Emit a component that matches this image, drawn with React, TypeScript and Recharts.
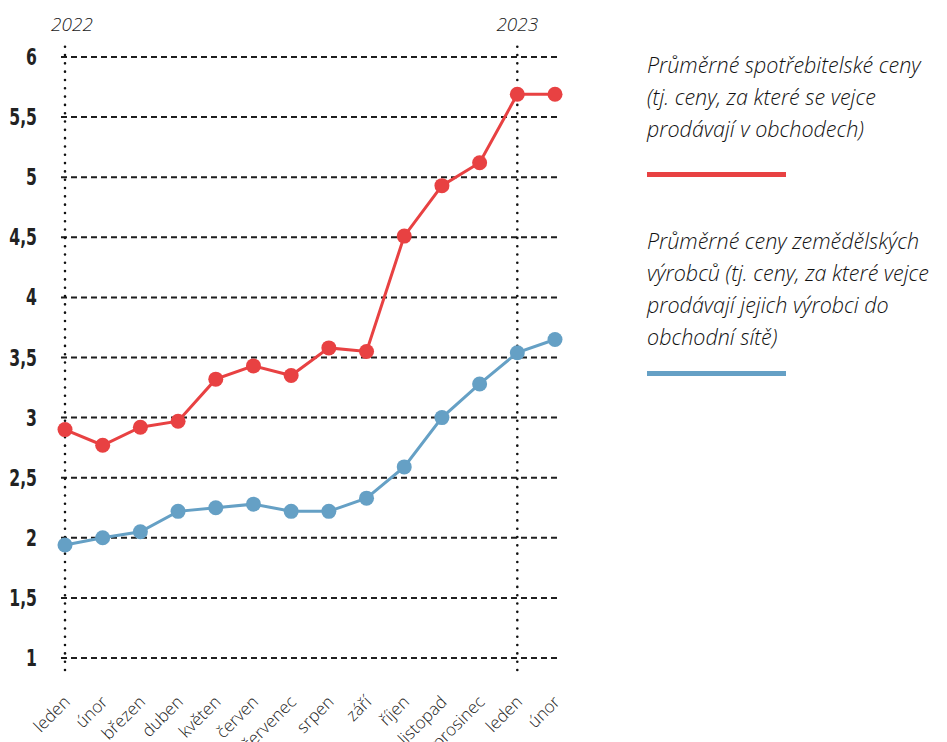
import React from "react";
import {
  LineChart,
  Line,
  XAxis,
  YAxis,
  ReferenceLine,
  Legend,
} from "recharts";

const periods = [
  "2022-01", "2022-02", "2022-03", "2022-04", "2022-05", "2022-06", "2022-07",
  "2022-08", "2022-09", "2022-10", "2022-11", "2022-12", "2023-01", "2023-02",
];
const monthLabels = [
  "leden", "únor", "březen", "duben", "květen", "červen", "červenec",
  "srpen", "září", "říjen", "listopad", "prosinec", "leden", "únor",
];
const consumerPrices = [2.9, 2.77, 2.92, 2.97, 3.32, 3.43, 3.35, 3.58, 3.55, 4.51, 4.93, 5.12, 5.69, 5.69];
const producerPrices = [1.94, 2.0, 2.05, 2.22, 2.25, 2.28, 2.22, 2.22, 2.33, 2.59, 3.0, 3.28, 3.54, 3.65];
const yTicks = [1, 1.5, 2, 2.5, 3, 3.5, 4, 4.5, 5, 5.5, 6];
const yearMarks = [
  { period: "2022-01", year: "2022" },
  { period: "2023-01", year: "2023" },
];
const consumerLegend = [
  "Průměrné spotřebitelské ceny",
  "(tj. ceny, za které se vejce",
  "prodávají v obchodech)",
];
const producerLegend = [
  "Průměrné ceny zemědělských",
  "výrobců (tj. ceny, za které vejce",
  "prodávají jejich výrobci do",
  "obchodní sítě)",
];

const RED = "#e84142";
const BLUE = "#65a0c5";
const INK = "#1d1d1d";
const TEXT_FONT = "'Open Sans', Lato, sans-serif";
const NUM_FONT = "'DejaVu Sans', sans-serif";

const data = periods.map((p, i) => ({
  period: p,
  consumer: consumerPrices[i],
  producer: producerPrices[i],
}));

const MonthTick = (props: any) => {
  const { x, y, index } = props;
  return (
    <g transform={`translate(${x + 6},${y + 33})`}>
      <text
        transform="rotate(-45)"
        textAnchor="end"
        fontFamily={TEXT_FONT}
        fontWeight={300}
        fontSize={17}
        fill="#222"
      >
        {monthLabels[index]}
      </text>
    </g>
  );
};

// condensed heavy numerals, squeezed horizontally
const ValueTick = (props: any) => {
  const { x, y, payload } = props;
  return (
    <g transform={`translate(${x},${y}) scale(0.68,1)`}>
      <text
        textAnchor="end"
        dy={8}
        fontFamily={NUM_FONT}
        fontWeight={700}
        fontSize={23}
        fill="#222"
      >
        {String(payload.value).replace(".", ",")}
      </text>
    </g>
  );
};

const LegendBlock = ({
  lines,
  color,
  barGap,
  after,
}: {
  lines: string[];
  color: string;
  barGap: number;
  after: number;
}) => (
  <div style={{ marginBottom: after }}>
    {lines.map((l, i) => (
      <div key={i} style={{ height: 32, lineHeight: "32px", whiteSpace: "nowrap" }}>
        {l}
      </div>
    ))}
    <div style={{ width: 139, height: 5, background: color, marginTop: barGap }} />
  </div>
);

const renderLegend = () => (
  <div
    style={{
      fontFamily: TEXT_FONT,
      fontStyle: "italic",
      fontWeight: 300,
      fontSize: 21.5,
      color: "#111",
    }}
  >
    <LegendBlock lines={consumerLegend} color={RED} barGap={27} after={48} />
    <LegendBlock lines={producerLegend} color={BLUE} barGap={18} after={0} />
  </div>
);

export default function App() {
  return (
    <div style={{ position: "absolute", left: 0, top: 0, width: 947, height: 742, background: "#fff" }}>
      <LineChart
        width={947}
        height={742}
        data={data}
        margin={{ top: 45, right: 390, left: 0, bottom: 0 }}
      >
        <XAxis
          dataKey="period"
          axisLine={false}
          tickLine={false}
          tickSize={0}
          tickMargin={0}
          height={72}
          interval={0}
          padding={{ left: 4, right: 2 }}
          tick={<MonthTick />}
        />
        <YAxis
          type="number"
          domain={[0.9, 6.1]}
          ticks={yTicks}
          width={61}
          axisLine={false}
          tickLine={false}
          tickSize={0}
          tickMargin={24}
          tick={<ValueTick />}
        />
        {yTicks.map((v) => (
          <ReferenceLine
            key={v}
            y={v}
            stroke={INK}
            strokeWidth={2}
            strokeDasharray="6 4"
          />
        ))}
        {yearMarks.map((m, i) => (
          <ReferenceLine
            key={m.period}
            x={m.period}
            stroke="#111"
            strokeWidth={2.6}
            strokeLinecap="round"
            strokeDasharray="0.01 8.3"
            label={{
              value: m.year,
              position: "top",
              offset: 14,
              dx: i === 0 ? 7 : 0,
              fill: "#222",
              fontSize: 19,
              fontStyle: "italic",
              fontWeight: 300,
              fontFamily: TEXT_FONT,
            }}
          />
        ))}
        <Legend
          layout="horizontal"
          verticalAlign="middle"
          align="center"
          content={renderLegend}
          wrapperStyle={{ left: 647, top: 49, width: 300 }}
        />
        <Line
          type="linear"
          dataKey="producer"
          stroke={BLUE}
          strokeWidth={3}
          dot={{ r: 7.5, fill: BLUE, stroke: BLUE, strokeWidth: 0 }}
          activeDot={false}
          isAnimationActive={false}
        />
        <Line
          type="linear"
          dataKey="consumer"
          stroke={RED}
          strokeWidth={3}
          dot={{ r: 7.5, fill: RED, stroke: RED, strokeWidth: 0 }}
          activeDot={false}
          isAnimationActive={false}
        />
      </LineChart>
    </div>
  );
}
